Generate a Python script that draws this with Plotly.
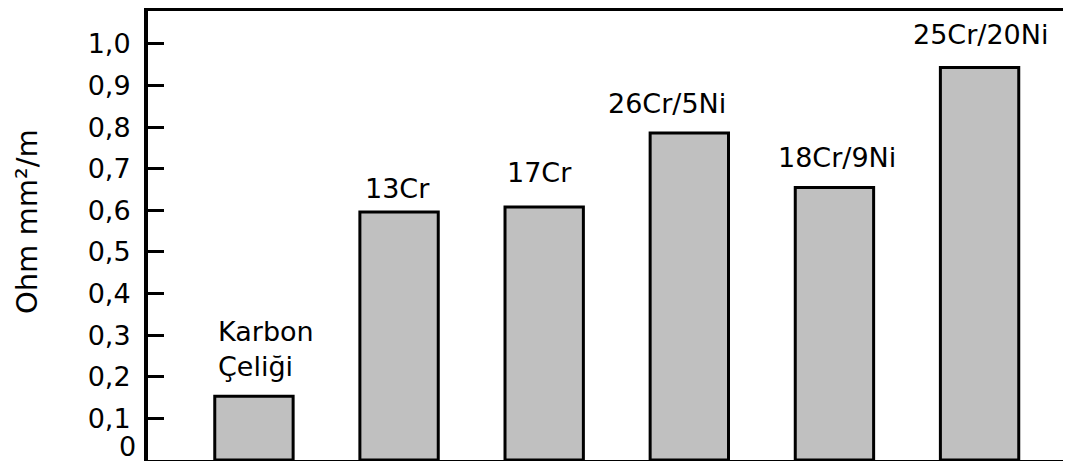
import plotly.graph_objects as go

categories = ["Karbon<br>Çeliği", "13Cr", "17Cr", "26Cr/5Ni", "18Cr/9Ni", "25Cr/20Ni"]
values = [0.153, 0.596, 0.608, 0.786, 0.655, 0.943]
tick_vals = [0, 0.1, 0.2, 0.3, 0.4, 0.5, 0.6, 0.7, 0.8, 0.9, 1.0]
tick_text = ["0", "0,1", "0,2", "0,3", "0,4", "0,5", "0,6", "0,7", "0,8", "0,9", "1,0"]
y_title = "Ohm mm²/m"

# label offsets in pixels (x, y)
label_xshift = [12, -2, -5, -22, 3, 1]
label_yshift = [12, 6, 17, 12, 12, 16]

FONT = "DejaVu Sans"
x_idx = list(range(len(categories)))

fig = go.Figure()
fig.add_trace(go.Bar(
    x=x_idx, y=values, width=0.54,
    marker=dict(color="#c0c0c0", line=dict(color="black", width=3)),
    hoverinfo="skip",
))

for i, (c, v) in enumerate(zip(categories, values)):
    fig.add_annotation(
        x=i, y=v, xref="x", yref="y", text=c, showarrow=False,
        xanchor="center", yanchor="bottom", align="left",
        xshift=label_xshift[i], yshift=label_yshift[i],
        font=dict(family=FONT, size=27, color="black"),
    )

# the zero tick label sits just above the baseline in the original
fig.add_annotation(
    x=0, y=tick_vals[0], xref="paper", yref="y", text=tick_text[0],
    showarrow=False, xanchor="right", yanchor="bottom", xshift=-10, yshift=-4,
    font=dict(family=FONT, size=27, color="black"),
)

fig.add_annotation(
    x=-0.131, y=0.53, xref="paper", yref="paper", text=y_title,
    showarrow=False, textangle=-90, xanchor="center", yanchor="middle",
    font=dict(family=FONT, size=29, color="black"),
)

fig.update_layout(
    width=1063, height=453,
    margin=dict(l=140, r=0, t=1, b=1),
    paper_bgcolor="white", plot_bgcolor="white",
    showlegend=False,
    xaxis=dict(range=[-0.73, 5.63], showticklabels=False, ticks="",
               showgrid=False, zeroline=False, showline=True,
               linecolor="black", linewidth=3, mirror=True),
    yaxis=dict(range=[0, 1.079], tickvals=tick_vals[1:], ticktext=tick_text[1:],
               ticks="inside", ticklen=16, tickwidth=3, tickcolor="black",
               ticklabelstandoff=8,
               showgrid=False, zeroline=False, showline=True,
               linecolor="black", linewidth=4,
               tickfont=dict(family=FONT, size=27, color="black")),
)

fig.write_html("out.html")
